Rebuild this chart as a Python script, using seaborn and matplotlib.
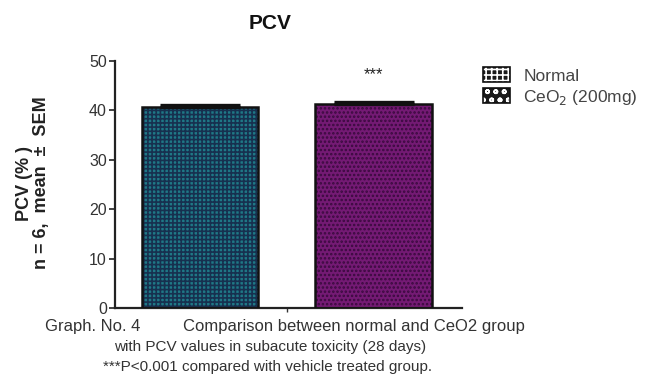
import matplotlib
matplotlib.use("Agg")
import matplotlib.pyplot as plt
from matplotlib.patches import Patch
import seaborn as sns
import pandas as pd

groups = ["Normal", "CeO2 (200mg)"]
legend_labels = ["Normal", "CeO$_2$ (200mg)"]
pcv_mean = [40.6, 41.3]
pcv_sem = [0.6, 0.4]
significance = ["", "***"]
y_ticks = [0, 10, 20, 30, 40, 50]

bar_colors = ["#1f7886", "#741a74"]
hatch_colors = ["#17304f", "#3a0a3e"]
hatches = ["++++", "...."]

sns.set_theme(style="ticks")
plt.rcParams["font.family"] = ["Liberation Sans", "DejaVu Sans"]
plt.rcParams["hatch.linewidth"] = 1.2

df = pd.DataFrame({"group": groups, "pcv": pcv_mean})

fig = plt.figure(figsize=(6.47, 3.79), dpi=100)
ax = fig.add_axes([0.178, 0.187, 0.536, 0.652])

sns.barplot(data=df, x="group", y="pcv", hue="group", palette=bar_colors,
            width=0.67, legend=False, ax=ax, errorbar=None, saturation=1)

for i, bar in enumerate(list(ax.patches)):
    bar.set_hatch(hatches[i])
    bar.set_edgecolor(hatch_colors[i])
    bar.set_linewidth(0)
    # outline on top of the hatched fill
    ax.add_patch(plt.Rectangle((bar.get_x(), 0), bar.get_width(), bar.get_height(),
                               fill=False, edgecolor="#111111", linewidth=1.8, zorder=3))
    cx = bar.get_x() + bar.get_width() / 2
    top = bar.get_height()
    # upper SEM bar with a wide cap
    ax.errorbar([cx], [top], yerr=[[0], [pcv_sem[i]]], fmt="none", ecolor="#111111",
                elinewidth=1.4, capsize=29, capthick=2.4, zorder=4)
    if significance[i]:
        ax.annotate(significance[i], (cx, top + pcv_sem[i]), xytext=(0, 14),
                    textcoords="offset points", ha="center", va="bottom",
                    fontsize=12, color="#222222")

ax.set_xlim(-0.49, 1.51)
ax.set_ylim(0, 50)
ax.set_yticks(y_ticks)
ax.set_xticks([0.5])
ax.set_xticklabels([""])
ax.set_xlabel("")
ax.set_ylabel("")
ax.tick_params(axis="y", labelsize=11.5, labelcolor="#333333", length=4, width=1.3,
               color="#333333", pad=2)
ax.tick_params(axis="x", length=3, width=1, color="#333333")
for s in ["top", "right"]:
    ax.spines[s].set_visible(False)
for s in ["left", "bottom"]:
    ax.spines[s].set_linewidth(1.6)
    ax.spines[s].set_color("#222222")

fig.text(0.417, 0.937, "PCV", ha="center", va="center", fontsize=15,
         fontweight="bold", color="#111111")
fig.text(0.051, 0.517, "PCV (% )\nn = 6,  mean  ±  SEM", rotation=90, ha="center",
         va="center", multialignment="center", fontsize=13, fontweight="bold",
         color="#222222", linespacing=1.0)

handles = [(Patch(facecolor="#1a1a1a", edgecolor="white", hatch="+++", linewidth=0),
            Patch(fill=False, edgecolor="#111111", linewidth=1.2)),
           (Patch(facecolor="#1a1a1a", edgecolor="white", hatch="oo", linewidth=0),
            Patch(fill=False, edgecolor="#111111", linewidth=1.2))]
leg = fig.legend(handles, legend_labels, loc="upper left", bbox_to_anchor=(0.727, 0.855),
                 frameon=False, fontsize=12.5, handlelength=1.6, handleheight=0.95,
                 handletextpad=0.75, labelspacing=0.25, borderpad=0.2)
for t in leg.get_texts():
    t.set_color("#444444")

fig.text(0.070, 0.138, "Graph. No. 4", ha="left", va="center", fontsize=12, color="#333333")
fig.text(0.283, 0.138, "Comparison between normal and CeO2 group",
         ha="left", va="center", fontsize=12, color="#333333")
fig.text(0.418, 0.085, "with PCV values in subacute toxicity (28 days)",
         ha="center", va="center", fontsize=11, color="#333333")
fig.text(0.413, 0.032, "***P<0.001 compared with vehicle treated group.",
         ha="center", va="center", fontsize=11, color="#333333")

fig.savefig("out.png", dpi=100)
